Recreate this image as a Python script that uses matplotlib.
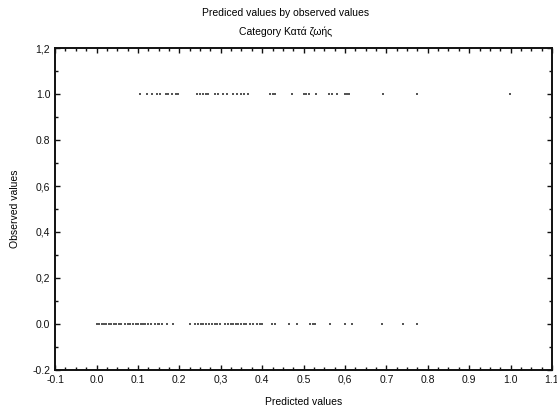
import matplotlib
matplotlib.use('Agg')
import matplotlib.pyplot as plt
from matplotlib.ticker import FixedLocator, MultipleLocator

plt.rcParams['font.family'] = ['Liberation Sans', 'DejaVu Sans']

# predicted values for observed = 1
pred_obs1 = [0.105, 0.121, 0.134, 0.146, 0.154, 0.168, 0.173, 0.182, 0.192, 0.197,
             0.242, 0.250, 0.257, 0.265, 0.270, 0.286, 0.294, 0.306, 0.315,
             0.330, 0.339, 0.349, 0.357, 0.366, 0.419, 0.426, 0.431, 0.472,
             0.500, 0.507, 0.512, 0.529, 0.561, 0.569, 0.581, 0.599, 0.604,
             0.609, 0.693, 0.774, 0.999]

# predicted values for observed = 0
pred_obs0 = [0.000, 0.005, 0.012, 0.018, 0.024, 0.030, 0.036, 0.042, 0.048, 0.055,
             0.060, 0.068, 0.075, 0.080, 0.087, 0.095, 0.100, 0.107, 0.113, 0.118,
             0.125, 0.132, 0.140, 0.148, 0.152, 0.158, 0.170, 0.185, 0.225, 0.238,
             0.245, 0.252, 0.258, 0.265, 0.272, 0.280, 0.285, 0.290, 0.297, 0.310,
             0.318, 0.325, 0.330, 0.338, 0.342, 0.350, 0.356, 0.362, 0.370, 0.378,
             0.388, 0.395, 0.400, 0.423, 0.431, 0.464, 0.484, 0.516, 0.522, 0.528,
             0.564, 0.600, 0.617, 0.689, 0.741, 0.774]

x_ticks = [-0.1, 0.0, 0.1, 0.2, 0.3, 0.4, 0.5, 0.6, 0.7, 0.8, 0.9, 1.0, 1.1]
x_labels = ['-0.1', '0.0', '0.1', '0.2', '0,3', '0.4', '0.5', '0,6', '0.7', '0.8',
            '0.9', '1.0', '1.1']
y_ticks = [-0.2, 0.0, 0.2, 0.4, 0.6, 0.8, 1.0, 1.2]
y_labels = ['-0.2', '0.0', '0,2', '0,4', '0,6', '0.8', '1.0', '1,2']

fig = plt.figure(figsize=(5.57, 4.11), dpi=100)
ax = fig.add_axes([0.099, 0.100, 0.892, 0.783])

ax.scatter(pred_obs1, [1.0] * len(pred_obs1), s=2, marker='s', color='#555555',
           linewidths=0)
ax.scatter(pred_obs0, [0.0] * len(pred_obs0), s=2, marker='s', color='#555555',
           linewidths=0)

ax.set_xlim(-0.1, 1.1)
ax.set_ylim(-0.2, 1.2)
ax.xaxis.set_major_locator(FixedLocator(x_ticks))
ax.set_xticklabels(x_labels)
ax.yaxis.set_major_locator(FixedLocator(y_ticks))
ax.set_yticklabels(y_labels)
ax.xaxis.set_minor_locator(MultipleLocator(0.025))
ax.yaxis.set_minor_locator(MultipleLocator(0.1))

ax.tick_params(which='both', direction='in', top=True, right=True,
               labelsize=7.5, colors='#111111', width=1.0)
ax.tick_params(which='major', length=3.5)
ax.tick_params(which='minor', length=2)
for sp in ax.spines.values():
    sp.set_linewidth(1.4)
    sp.set_color('#111111')

ax.set_xlabel('Predicted values', fontsize=7.5, labelpad=9)
ax.set_ylabel('Observed values', fontsize=7.5, labelpad=9)

fig.text(0.513, 0.968, 'Prediced values by observed values', ha='center', va='center',
         fontsize=7.5)
fig.text(0.513, 0.922, 'Category Κατά ζωής', ha='center', va='center', fontsize=7.5)

fig.savefig('out.png', dpi=100)
